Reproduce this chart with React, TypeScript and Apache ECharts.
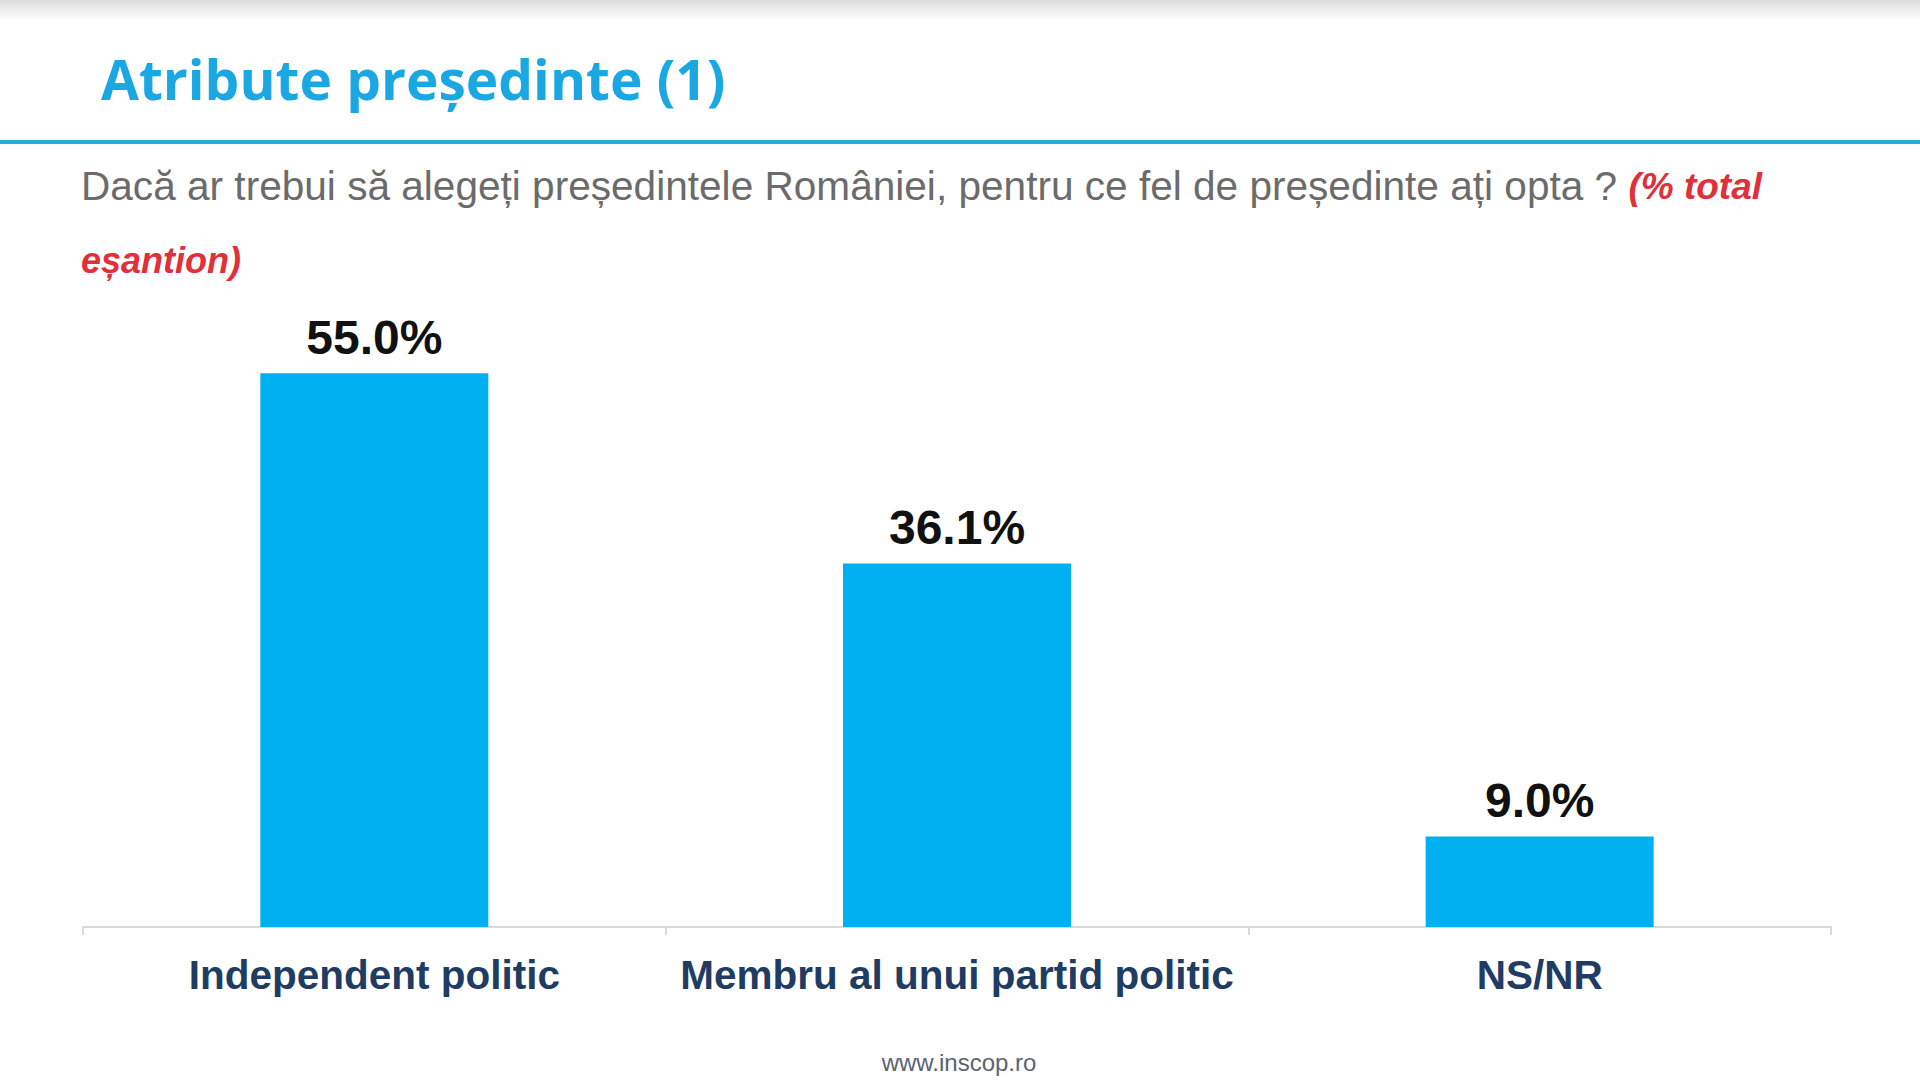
import React, { useEffect, useRef } from "react";
import * as echarts from "echarts";

const categories = ["Independent politic", "Membru al unui partid politic", "NS/NR"];
const values = [55.0, 36.1, 9.0];
const titleText = "Atribute președinte (1)";
const questionText = "Dacă ar trebui să alegeți președintele României, pentru ce fel de președinte ați opta ? ";
const noteLine1 = "(% total";
const noteLine2 = "eșantion)";
const footerText = "www.inscop.ro";

export default function App() {
  const ref = useRef<HTMLDivElement>(null);
  useEffect(() => {
    document.body.style.margin = "0";
    const chart = echarts.init(ref.current!, null, { renderer: "svg" });
    chart.setOption({
      animation: false,
      backgroundColor: "#ffffff",
      grid: { left: 83, right: 89, top: 323, bottom: 153 },
      xAxis: {
        type: "category",
        data: categories,
        axisLine: { show: true, lineStyle: { color: "#d9d9d9", width: 2 } },
        axisTick: { show: true, length: 8, alignWithLabel: false, lineStyle: { color: "#d9d9d9", width: 2 } },
        axisLabel: {
          fontFamily: "Liberation Sans, Arial, sans-serif",
          fontWeight: "bold",
          fontSize: 40.5,
          color: "#1f3c63",
          margin: 27,
          interval: 0,
        },
      },
      yAxis: {
        type: "value",
        min: 0,
        max: 60,
        show: false,
        splitLine: { show: false },
      },
      series: [
        {
          type: "bar",
          data: values,
          barWidth: 228,
          itemStyle: { color: "#00b0f0" },
          label: {
            show: true,
            position: "top",
            distance: 12,
            formatter: (p: any) => p.value.toFixed(1) + "%",
            fontFamily: "Liberation Sans, Arial, sans-serif",
            fontWeight: "bold",
            fontSize: 48,
            color: "#111111",
          },
        },
      ],
      graphic: [
        {
          type: "rect",
          shape: { x: 0, y: 0, width: 1920, height: 20 },
          style: {
            fill: new echarts.graphic.LinearGradient(0, 0, 0, 1, [
              { offset: 0, color: "#dcdcdc" },
              { offset: 1, color: "#ffffff" },
            ]),
          },
          silent: true,
        },
        {
          type: "text",
          x: 101,
          y: 78,
          style: {
            text: titleText,
            font: "bold 55px 'Open Sans', Lato, sans-serif",
            fill: "#1ba8e2",
            verticalAlign: "middle",
            align: "left",
          },
        },
        {
          type: "rect",
          shape: { x: 0, y: 140, width: 1920, height: 4 },
          style: { fill: "#2aaad8" },
        },
        {
          type: "text",
          x: 81,
          y: 186,
          style: {
            text: questionText + "{r|" + noteLine1 + "}",
            font: "40.6px 'Liberation Sans', Arial, sans-serif",
            fill: "#6b6b6b",
            verticalAlign: "middle",
            align: "left",
            rich: {
              r: {
                fontFamily: "'Liberation Sans', Arial, sans-serif",
                fontSize: 37,
                fontStyle: "italic",
                fontWeight: "bold",
                fill: "#e0303a",
                color: "#e0303a",
              },
            },
          },
        },
        {
          type: "text",
          x: 81,
          y: 260,
          style: {
            text: noteLine2,
            font: "italic bold 36px 'Liberation Sans', Arial, sans-serif",
            fill: "#e0303a",
            verticalAlign: "middle",
            align: "left",
          },
        },
        {
          type: "text",
          x: 959,
          y: 1062,
          style: {
            text: footerText,
            font: "24px 'Liberation Sans', Arial, sans-serif",
            fill: "#5a6470",
            verticalAlign: "middle",
            align: "center",
          },
        },
      ],
    });
    return () => chart.dispose();
  }, []);
  return <div ref={ref} style={{ width: 1920, height: 1080 }} />;
}
